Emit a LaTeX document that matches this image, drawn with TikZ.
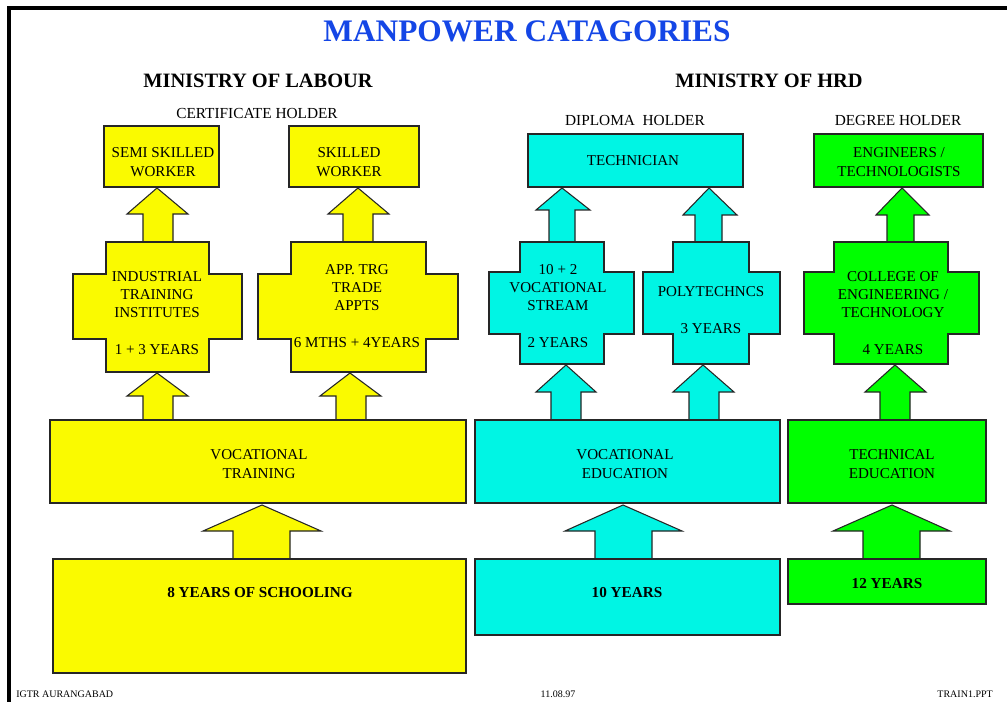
\documentclass[tikz,border=0pt]{standalone}
\usepackage{fontspec}
\setmainfont{Liberation Serif}
\usetikzlibrary{fit}
\definecolor{cyel}{RGB}{250,250,0}
\definecolor{ccyan}{RGB}{0,245,228}
\definecolor{cgreen}{RGB}{0,255,0}
\definecolor{ctitle}{RGB}{20,70,230}
\tikzset{
  outline/.style={draw=black!85, line width=0.8pt},
  box/.style={outline, inner sep=0pt},
  txt/.style={align=center, inner sep=0pt, font=\fontsize{11.3}{13.7}\selectfont},
  btxt/.style={align=center, inner sep=0pt, font=\fontsize{11.4}{13.7}\selectfont\bfseries},
  holder/.style={inner sep=0pt, font=\fontsize{11.5}{13.7}\selectfont},
  ministry/.style={inner sep=0pt, font=\fontsize{15.3}{18}\selectfont\bfseries},
  foot/.style={inner sep=0pt, font=\fontsize{7.5}{9}\selectfont}
}
\newcommand\blockarrow[9]{%
  \filldraw[outline, fill=#9] (#1,#2) -- (#4,#5) -- (#7,#5) -- (#7,#8) -- (#6,#8) -- (#6,#5) -- (#3,#5) -- cycle;}
\newcommand\crossshape[9]{%
  \filldraw[outline, fill=#9] (#1,#5) -- (#2,#5) -- (#2,#6) -- (#4,#6) -- (#4,#7) -- (#2,#7) -- (#2,#8) -- (#1,#8) -- (#1,#7) -- (#3,#7) -- (#3,#6) -- (#1,#6) -- cycle;}
\begin{document}
\begin{tikzpicture}[x=0.75pt, y=-0.75pt]
\useasboundingbox (0,0) rectangle (1007,702);
\fill[white] (0,0) rectangle (1007,702);
% frame
\draw[line width=3pt] (1007,8) -- (9,8) -- (9,702);
% title
\node[inner sep=0pt, font=\fontsize{23.5}{28}\selectfont\bfseries, text=ctitle] (title) at (527,31) {MANPOWER CATAGORIES};
\node[ministry] (labour) at (258,81) {MINISTRY OF LABOUR};
\node[ministry] (hrd) at (769,81) {MINISTRY OF HRD};
\node[holder] (cert) at (257,114) {CERTIFICATE HOLDER};
\node[holder] (dipl) at (635,121) {DIPLOMA~~HOLDER};
\node[holder] (degr) at (898,121) {DEGREE HOLDER};
% arrows top row
\blockarrow{157}{188}{127}{188}{214}{143}{173}{243}{cyel}
\blockarrow{358}{188}{328}{389}{214}{343}{373}{243}{cyel}
\blockarrow{562}{188}{536}{590}{210}{549}{575}{243}{ccyan}
\blockarrow{709}{188}{683}{737}{215}{695}{722}{243}{ccyan}
\blockarrow{902}{188}{876}{929}{215}{887}{914}{243}{cgreen}
% arrows middle row
\blockarrow{157}{373}{127}{188}{396}{143}{173}{421}{cyel}
\blockarrow{350}{373}{320}{381}{396}{336}{366}{421}{cyel}
\blockarrow{566}{365}{536}{596}{392}{551}{581}{421}{ccyan}
\blockarrow{703}{365}{673}{734}{392}{689}{719}{421}{ccyan}
\blockarrow{895}{365}{865}{926}{392}{880}{910}{421}{cgreen}
% arrows bottom row
\blockarrow{262}{505}{203}{321}{531}{233}{290}{560}{cyel}
\blockarrow{623}{505}{565}{682}{531}{595}{652}{560}{ccyan}
\blockarrow{892}{505}{833}{950}{531}{863}{920}{560}{cgreen}
% top boxes
\node[box, fill=cyel, fit={(104,126)(219,187)}] (semi) {};
\node[box, fill=cyel, fit={(289,126)(419,187)}] (skilled) {};
\node[box, fill=ccyan, fit={(528,134)(743,187)}] (tech) {};
\node[box, fill=cgreen, fit={(814,134)(983,187)}] (eng) {};
\node[txt] (semit) at (163,162) {SEMI SKILLED\\WORKER};
\node[txt] (skilledt) at (349,162) {SKILLED\\WORKER};
\node[txt] (techt) at (633,161) {TECHNICIAN};
\node[txt] (engt) at (899,162) {ENGINEERS /\\TECHNOLOGISTS};
% crosses
\crossshape{106}{209}{73}{242}{242}{274}{339}{372}{cyel}
\crossshape{291}{426}{258}{458}{242}{274}{339}{372}{cyel}
\crossshape{520}{604}{489}{634}{242}{272}{334}{364}{ccyan}
\crossshape{673}{749}{643}{780}{242}{272}{334}{364}{ccyan}
\crossshape{834}{948}{804}{979}{242}{272}{334}{364}{cgreen}
\node[txt] (iti) at (157,313) {INDUSTRIAL\\TRAINING\\INSTITUTES\\[13.7pt]1 + 3 YEARS};
\node[txt] (app) at (357,306) {APP. TRG\\TRADE\\APPTS\\[13.7pt]6 MTHS + 4YEARS};
\node[txt] (voc2) at (558,306) {10 + 2\\VOCATIONAL\\STREAM\\[13.7pt]2 YEARS};
\node[txt] (poly) at (711,310) {POLYTECHNCS\\[13.7pt]3 YEARS};
\node[txt] (coll) at (893,313) {COLLEGE OF\\ENGINEERING /\\TECHNOLOGY\\[13.7pt]4 YEARS};
% middle boxes
\node[box, fill=cyel, fit={(50,420)(466,503)}] (vt) {};
\node[box, fill=ccyan, fit={(475,420)(780,503)}] (ve) {};
\node[box, fill=cgreen, fit={(788,420)(986,503)}] (te) {};
\node[txt] (vtt) at (259,464) {VOCATIONAL\\TRAINING};
\node[txt] (vet) at (625,464) {VOCATIONAL\\EDUCATION};
\node[txt] (tet) at (892,464) {TECHNICAL\\EDUCATION};
% bottom boxes
\node[box, fill=cyel, fit={(53,559)(466,673)}] (y8) {};
\node[box, fill=ccyan, fit={(475,559)(780,635)}] (y10) {};
\node[box, fill=cgreen, fit={(788,559)(986,604)}] (y12) {};
\node[btxt] (y8t) at (260,593) {8 YEARS OF SCHOOLING};
\node[btxt] (y10t) at (627,593) {10 YEARS};
\node[btxt] (y12t) at (887,584) {12 YEARS};
% footer
\node[foot, anchor=west] (f1) at (16,694) {IGTR AURANGABAD};
\node[foot] (f2) at (558,694) {11.08.97};
\node[foot, anchor=east] (f3) at (993,694) {TRAIN1.PPT};
\end{tikzpicture}
\end{document}
